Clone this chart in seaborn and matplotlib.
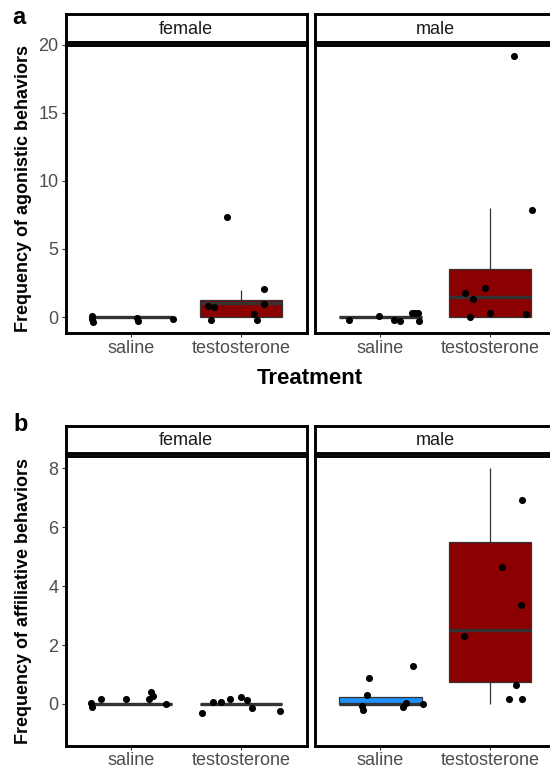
import numpy as np
import pandas as pd
import matplotlib
matplotlib.use("Agg")
import matplotlib.pyplot as plt
import seaborn as sns

treatments = ["saline", "testosterone"]

# raw counts per animal (these drive the boxes)
agon_female_saline = [0, 0, 0, 0, 0, 0]
agon_female_testo = [0, 0, 0, 1, 1, 1, 2, 7]
agon_male_saline = [0, 0, 0, 0, 0, 0, 0, 0]
agon_male_testo = [0, 0, 0, 1, 2, 2, 8, 19]
affil_female_saline = [0, 0, 0, 0, 0, 0, 0, 0]
affil_female_testo = [0, 0, 0, 0, 0, 0, 0, 0]
affil_male_saline = [0, 0, 0, 0, 0, 0, 1, 1]
affil_male_testo = [0, 0, 1, 2, 3, 5, 7, 8]

# jittered points as they appear in the figure (offset from category, value)
agon_female_saline_dx = [-0.36, -0.36, -0.35, 0.05, 0.06, 0.38]
agon_female_saline_y = [0.07, -0.17, -0.34, -0.10, -0.29, -0.15]
agon_female_testo_dx = [-0.30, -0.24, -0.27, -0.13, 0.12, 0.15, 0.21, 0.21]
agon_female_testo_y = [0.81, 0.71, -0.22, 7.36, 0.20, -0.22, 2.05, 0.95]
agon_male_saline_dx = [-0.29, -0.015, 0.12, 0.18, 0.29, 0.32, 0.34, 0.35]
agon_male_saline_y = [-0.24, 0.10, -0.24, -0.32, 0.29, 0.29, 0.29, -0.32]
agon_male_testo_dx = [-0.23, -0.16, -0.05, -0.18, 0.0, 0.33, 0.38, 0.22]
agon_male_testo_y = [1.78, 1.30, 2.13, -0.02, 0.32, 0.22, 7.82, 19.14]

affil_female_saline_dx = [-0.37, -0.36, -0.28, -0.05, 0.16, 0.18, 0.20, 0.32]
affil_female_saline_y = [0.02, -0.09, 0.17, 0.18, 0.17, 0.40, 0.28, -0.01]
affil_female_testo_dx = [-0.35, -0.25, -0.18, -0.10, 0.0, 0.06, 0.10, 0.36]
affil_female_testo_y = [-0.32, 0.06, 0.06, 0.16, 0.25, 0.15, -0.15, -0.23]
affil_male_saline_dx = [-0.10, -0.12, -0.17, -0.16, 0.21, 0.23, 0.30, 0.39]
affil_male_saline_y = [0.87, 0.29, -0.08, -0.19, -0.09, 0.02, 1.30, 0.0]
affil_male_testo_dx = [0.29, 0.11, 0.28, -0.24, 0.24, 0.17, 0.29]
affil_male_testo_y = [6.92, 4.66, 3.36, 2.31, 0.64, 0.17, 0.17]

sns.set_style("white")
plt.rcParams["font.family"] = ["Liberation Sans", "DejaVu Sans"]

W, H = 550, 771
fig = plt.figure(figsize=(W / 100, H / 100), dpi=100)

box_colors = {"saline": "#1E90FF", "testosterone": "#8B0000"}
line_col = "#333333"
border_lw = 2.1


def add_px_axes(left, top, right, bottom):
    return fig.add_axes([left / W, 1 - bottom / H, (right - left) / W, (bottom - top) / H])


def add_strip(left, top, right, bottom, label):
    sax = add_px_axes(left, top, right, bottom)
    sax.set_xticks([])
    sax.set_yticks([])
    sax.set_facecolor("white")
    for sp in sax.spines.values():
        sp.set_visible(True)
        sp.set_linewidth(border_lw)
        sp.set_color("black")
    sax.text(0.5, 0.45, label, ha="center", va="center", fontsize=13,
             color="#1A1A1A", transform=sax.transAxes)


def draw_facet(ax, raw, pts, ylim, yticks, first):
    df = pd.DataFrame({
        "treatment": [t for t in treatments for _ in raw[t]],
        "value": [v for t in treatments for v in raw[t]],
    })
    sns.boxplot(data=df, x="treatment", y="value", hue="treatment",
                order=treatments, hue_order=treatments, palette=box_colors,
                saturation=1, width=0.75, showcaps=False, showfliers=False,
                linecolor=line_col, linewidth=0.9,
                medianprops={"linewidth": 2.4, "color": line_col},
                legend=False, ax=ax)
    for i, t in enumerate(treatments):
        dx, y = pts[t]
        sns.scatterplot(x=i + np.array(dx), y=y, color="black", s=26,
                        linewidth=0, zorder=3, legend=False, ax=ax)
    ax.set_xlim(-0.6, 1.6)
    ax.set_ylim(*ylim)
    ax.set_xticks([0, 1], treatments)
    ax.set_yticks(yticks, [str(v) for v in yticks])
    ax.set_xlabel("")
    ax.set_ylabel("")
    for sp in ax.spines.values():
        sp.set_visible(True)
        sp.set_linewidth(border_lw)
        sp.set_color("black")
    ax.tick_params(axis="both", direction="out", length=3, width=0.8,
                   color=line_col, labelcolor="#4D4D4D", labelsize=13, pad=2,
                   bottom=True, left=first, labelleft=first)


panels = [
    # behaviour rows: (strip top, strip bottom, panel top, panel bottom, ylim, yticks, data)
    (14, 41.5, 44.5, 333, (-1.17, 19.98), [0, 5, 10, 15, 20],
     {"female": ({"saline": agon_female_saline, "testosterone": agon_female_testo},
                 {"saline": (agon_female_saline_dx, agon_female_saline_y),
                  "testosterone": (agon_female_testo_dx, agon_female_testo_y)}),
      "male": ({"saline": agon_male_saline, "testosterone": agon_male_testo},
               {"saline": (agon_male_saline_dx, agon_male_saline_y),
                "testosterone": (agon_male_testo_dx, agon_male_testo_y)})}),
    (425.5, 453, 456, 745.5, (-1.41, 8.42), [0, 2, 4, 6, 8],
     {"female": ({"saline": affil_female_saline, "testosterone": affil_female_testo},
                 {"saline": (affil_female_saline_dx, affil_female_saline_y),
                  "testosterone": (affil_female_testo_dx, affil_female_testo_y)}),
      "male": ({"saline": affil_male_saline, "testosterone": affil_male_testo},
               {"saline": (affil_male_saline_dx, affil_male_saline_y),
                "testosterone": (affil_male_testo_dx, affil_male_testo_y)})}),
]

x_spans = {"female": (65.5, 306.5), "male": (314.5, 556)}

for st, sb, pt, pb, ylim, yticks, groups in panels:
    for sex in ["female", "male"]:
        l, r = x_spans[sex]
        ax = add_px_axes(l, pt, r, pb)
        raw, pts = groups[sex]
        draw_facet(ax, raw, pts, ylim, yticks, first=(sex == "female"))
        add_strip(l, st, r, sb, sex)

fig.text(19 / W, 1 - 17 / H, "a", ha="center", va="center", fontsize=17,
         fontweight="bold", color="black")
fig.text(21 / W, 1 - 424 / H, "b", ha="center", va="center", fontsize=17,
         fontweight="bold", color="black")
fig.text(24 / W, 1 - 188.5 / H, "Frequency of agonistic behaviors", rotation=90,
         ha="center", va="center", fontsize=13, fontweight="bold", color="black")
fig.text(24 / W, 1 - 601 / H, "Frequency of affiliative behaviors", rotation=90,
         ha="center", va="center", fontsize=13, fontweight="bold", color="black")
fig.text(310 / W, 1 - 378 / H, "Treatment", ha="center", va="center",
         fontsize=16, fontweight="bold", color="black")

plt.savefig("out.png", dpi=100)
